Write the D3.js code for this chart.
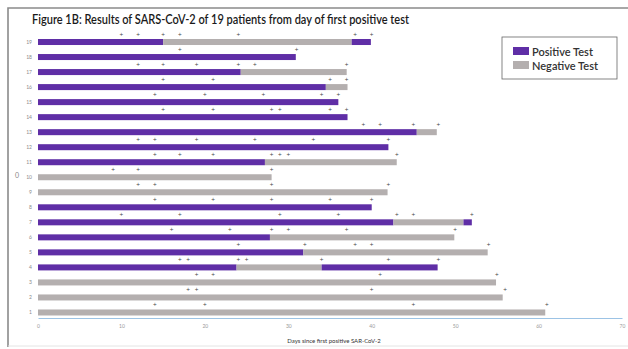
<!DOCTYPE html>
<html><head><meta charset="utf-8">
<script src="https://cdn.jsdelivr.net/npm/d3@7"></script>
<style>body{margin:0;background:#fff}svg{display:block}</style>
</head><body>
<script>
// Patients (top to bottom as drawn: 19 ... 1)
const patients = [19,18,17,16,15,14,13,12,11,10,9,8,7,6,5,4,3,2,1];
// Segments per patient: [start day, end day, result]
const seg19 = [[0,15,"P"],[15,37.6,"N"],[37.6,39.9,"P"]];
const seg18 = [[0,30.9,"P"]];
const seg17 = [[0,24.3,"P"],[24.3,37.0,"N"]];
const seg16 = [[0,34.5,"P"],[34.5,37.1,"N"]];
const seg15 = [[0,36.0,"P"]];
const seg14 = [[0,37.1,"P"]];
const seg13 = [[0,45.4,"P"],[45.4,47.8,"N"]];
const seg12 = [[0,42.0,"P"]];
const seg11 = [[0,27.2,"P"],[27.2,43.0,"N"]];
const seg10 = [[0,28.0,"N"]];
const seg9  = [[0,41.9,"N"]];
const seg8  = [[0,40.0,"P"]];
const seg7  = [[0,42.6,"P"],[42.6,51.0,"N"],[51.0,52.0,"P"]];
const seg6  = [[0,27.8,"P"],[27.8,49.9,"N"]];
const seg5  = [[0,31.8,"P"],[31.8,53.9,"N"]];
const seg4  = [[0,23.8,"P"],[23.8,34.0,"N"],[34.0,47.9,"P"]];
const seg3  = [[0,54.9,"N"]];
const seg2  = [[0,55.7,"N"]];
const seg1  = [[0,60.8,"N"]];
// Test days (small marks above each bar)
const test19 = [10,12,15,17,24,38,40];
const test18 = [17,31];
const test17 = [12,15,19,24,26,37];
const test16 = [15,21,35,37];
const test15 = [14,20,27,34,36];
const test14 = [15,21,28,29,35,37];
const test13 = [39,41,45,48];
const test12 = [12,14,19,26,33,42];
const test11 = [14,17,21,28,29,30,43];
const test10 = [9,12,28];
const test9  = [12,14,28,42];
const test8  = [14,21,28,35,40];
const test7  = [10,17,29,36,43,45,52];
const test6  = [16,23,28,30,37,50];
const test5  = [24,32,38,40,54];
const test4  = [17,18,24,25,34,42,48];
const test3  = [19,21,41,55];
const test2  = [18,19,40,56];
const test1  = [14,20,45,61];
const xTicks = [0,10,20,30,40,50,60,70];
const legendLabels = ["Positive Test","Negative Test"];

const segs = {19:seg19,18:seg18,17:seg17,16:seg16,15:seg15,14:seg14,13:seg13,12:seg12,11:seg11,10:seg10,9:seg9,8:seg8,7:seg7,6:seg6,5:seg5,4:seg4,3:seg3,2:seg2,1:seg1};
const tests = {19:test19,18:test18,17:test17,16:test16,15:test15,14:test14,13:test13,12:test12,11:test11,10:test10,9:test9,8:test8,7:test7,6:test6,5:test5,4:test4,3:test3,2:test2,1:test1};

const W=628,H=349;
const PURPLE="#5f2ea6", GRAY="#b4afaf";
const svg=d3.select("body").append("svg").attr("width",W).attr("height",H);
svg.append("rect").attr("width",W).attr("height",H).attr("fill","#fff");
// frame (scanned figure border)
svg.append("path").attr("d","M8,347 V8 H628").attr("fill","none").attr("stroke","#8a8a8a").attr("stroke-width",1.6);
svg.append("line").attr("x1",8).attr("x2",628).attr("y1",346).attr("y2",346).attr("stroke","#e4e4e4");

const x=d3.scaleLinear().domain([0,70]).range([38,622]);
const y=d3.scaleBand().domain(patients.map(String)).range([34.5,320]).paddingInner(0.6).paddingOuter(0.3);
const bh=y.bandwidth();

// title
svg.append("text").attr("x",32).attr("y",24).attr("font-family","Lato, 'Open Sans', sans-serif")
  .attr("font-size",13).attr("font-weight",600).attr("fill","#1a1a1a").attr("textLength",377).attr("lengthAdjust","spacingAndGlyphs")
  .text("Figure 1B: Results of SARS-CoV-2  of 19 patients from day of first positive test");

// bars
const g=svg.append("g");
patients.forEach(p=>{
  g.selectAll(null).data(segs[p]).enter().append("rect")
    .attr("x",d=>x(d[0])).attr("width",d=>x(d[1])-x(d[0]))
    .attr("y",y(String(p))).attr("height",bh)
    .attr("fill",d=>d[2]==="P"?PURPLE:GRAY);
  g.selectAll(null).data(tests[p]).enter().append("text")
    .attr("x",d=>x(d)).attr("y",y(String(p))-3.2)
    .attr("text-anchor","middle").attr("font-family","DejaVu Sans").attr("font-size",5)
    .attr("fill","#444").text("+");
});

// y labels
svg.append("g").selectAll("text").data(patients).enter().append("text")
  .attr("x",32).attr("y",p=>y(String(p))+bh/2+1.8).attr("text-anchor","end")
  .attr("font-family","Lato, sans-serif").attr("font-size",5).attr("fill","#8a8a8a").text(d=>d);
svg.append("text").attr("x",17).attr("y",178).attr("text-anchor","middle")
  .attr("font-family","Lato, sans-serif").attr("font-size",7).attr("fill","#888").text("0");

// x axis
const ax=svg.append("g").attr("transform","translate(0,318)")
  .call(d3.axisBottom(x).tickValues(xTicks).tickSize(0).tickPadding(6));
ax.select(".domain").attr("stroke","#9cc3e5").attr("stroke-width",1);
ax.selectAll("text").attr("font-family","Lato, sans-serif").attr("font-size",5).attr("fill","#999");
svg.append("text").attr("x",334).attr("y",343).attr("text-anchor","middle")
  .attr("font-family","Lato, sans-serif").attr("font-size",6).attr("fill","#333")
  .text("Days since first positive SAR-CoV-2");

// legend
const lg=svg.append("g");
lg.append("rect").attr("x",502).attr("y",37).attr("width",115).attr("height",42)
  .attr("fill","#fff").attr("stroke","#666").attr("stroke-width",0.8);
legendLabels.forEach((t,i)=>{
  lg.append("rect").attr("x",513).attr("y",47+i*14).attr("width",16).attr("height",8)
    .attr("fill",i===0?PURPLE:GRAY);
  lg.append("text").attr("x",532).attr("y",55.5+i*14).attr("font-family","Lato, sans-serif")
    .attr("font-size",11).attr("font-weight",600).attr("fill","#333").text(t);
});
</script>
</body></html>
